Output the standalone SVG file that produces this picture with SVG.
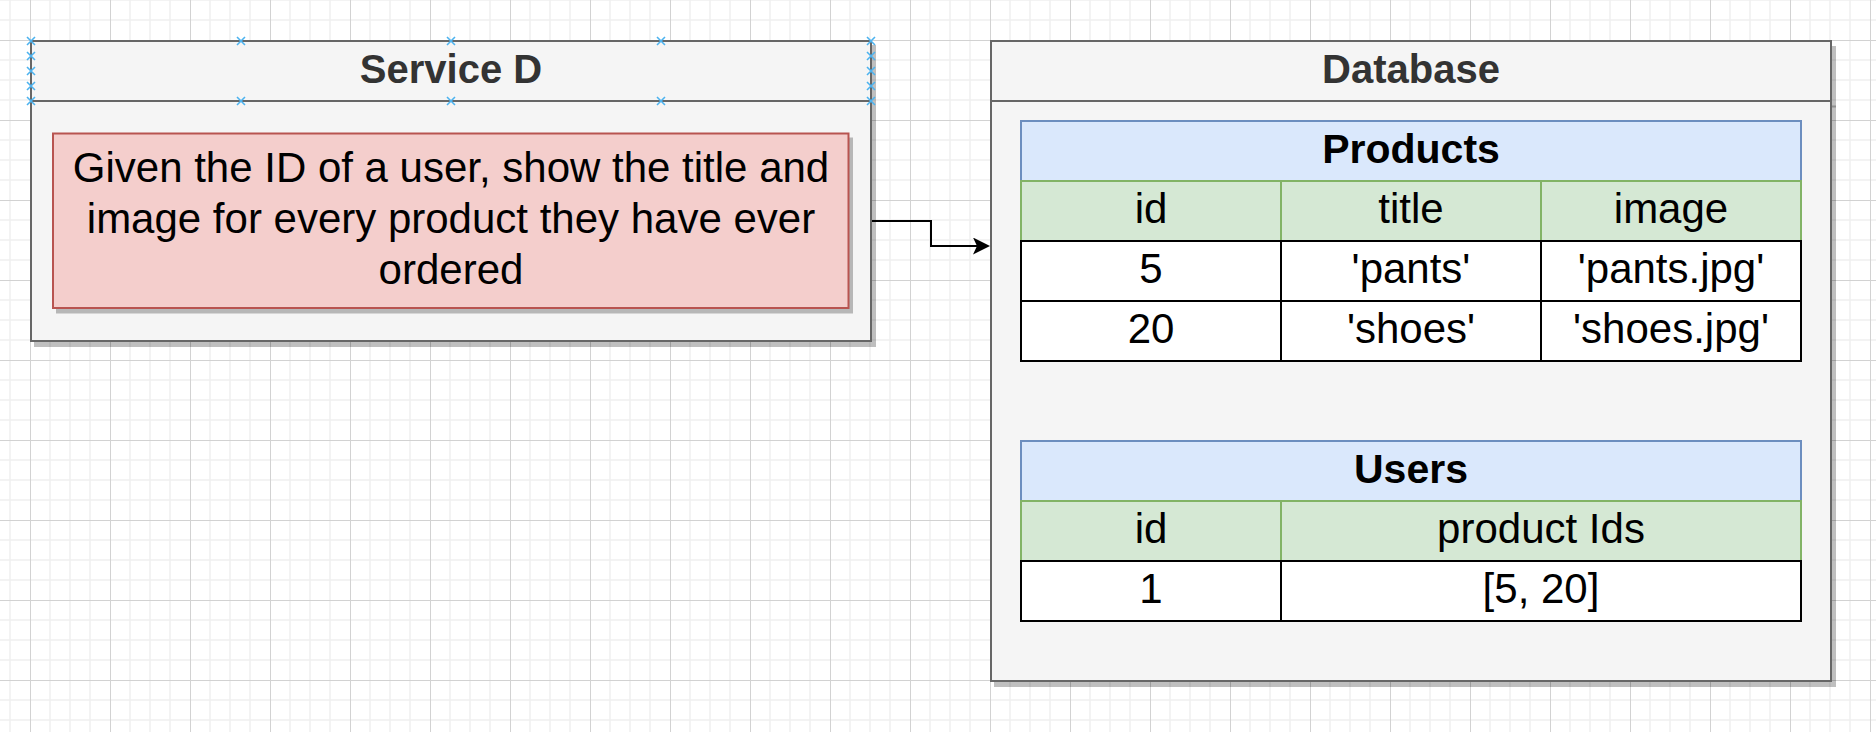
<svg xmlns="http://www.w3.org/2000/svg" width="1876" height="732" viewBox="0 0 1876 732">
<defs>
  <pattern id="grid" x="30" y="40" width="80" height="80" patternUnits="userSpaceOnUse">
    <path d="M20 0V80M40 0V80M60 0V80M0 20H80M0 40H80M0 60H80" stroke="#f0f0f0" stroke-width="1.5" fill="none"/>
    <path d="M0.5 0V80M0 0.5H80" stroke="#d2d2d2" stroke-width="1" fill="none"/>
  </pattern>
  <marker id="arrow" markerUnits="userSpaceOnUse" viewBox="0 0 17 17" refX="13" refY="8.5" markerWidth="17" markerHeight="17" orient="auto">
    <path d="M0 0L17 8.5L0 17L4 8.5Z" fill="#000"/>
  </marker>
  <path id="pt" d="M-4 -4L4 4M-4 4L4 -4"/>
</defs>
<style>
  text{font-family:"Liberation Sans",Arial,Helvetica,sans-serif}
  .container{fill:#f5f5f5;stroke:#666666;stroke-width:2}
  .sep{stroke:#666666;stroke-width:2;fill:none}
  .shadow{fill:#000;fill-opacity:0.25}
  .shadowline{stroke:#000;stroke-opacity:0.25;stroke-width:2;fill:none}
  .title{font-size:40px;font-weight:bold;fill:#333333;text-anchor:middle}
  .note{fill:#f4cecc;stroke:#b85450;stroke-width:2}
  .body{font-size:42px;fill:#000;text-anchor:middle}
  .th{fill:#dae8fc;stroke:#6c8ebf;stroke-width:2}
  .tcol{fill:#d5e8d4;stroke:#82b366;stroke-width:2}
  .trow{fill:#ffffff;stroke:#000;stroke-width:2}
  .hd{font-size:41px;font-weight:bold;fill:#000;text-anchor:middle}
  .pt{stroke:#4db3ef;stroke-width:1.6;fill:none}
  .edge{stroke:#000;stroke-width:2;fill:none}
</style>
<rect width="1876" height="732" fill="#ffffff"/>
<rect width="1876" height="732" fill="url(#grid)"/>

<g id="service-d">
  <rect class="shadow" x="34" y="45" width="842" height="302"/>
  <rect class="container" x="31" y="41" width="840" height="300"/>
  <path class="sep" d="M31 101H871"/>
  <text class="title" x="451" y="83">Service D</text>
  <g id="service-d-task">
    <rect class="shadow" x="56" y="137.5" width="797" height="176"/>
    <rect class="note" x="53" y="133.5" width="795.5" height="174.5"/>
    <text class="body" x="451" y="182">Given the ID of a user, show the title and</text>
    <text class="body" x="451" y="233">image for every product they have ever</text>
    <text class="body" x="451" y="284">ordered</text>
  </g>
  <g id="service-d-points">
    <use href="#pt" class="pt" x="31" y="41"/>
    <use href="#pt" class="pt" x="241" y="41"/>
    <use href="#pt" class="pt" x="451" y="41"/>
    <use href="#pt" class="pt" x="661" y="41"/>
    <use href="#pt" class="pt" x="871" y="41"/>
    <use href="#pt" class="pt" x="31" y="101"/>
    <use href="#pt" class="pt" x="241" y="101"/>
    <use href="#pt" class="pt" x="451" y="101"/>
    <use href="#pt" class="pt" x="661" y="101"/>
    <use href="#pt" class="pt" x="871" y="101"/>
    <use href="#pt" class="pt" x="31" y="56"/>
    <use href="#pt" class="pt" x="31" y="71"/>
    <use href="#pt" class="pt" x="31" y="86"/>
    <use href="#pt" class="pt" x="871" y="56"/>
    <use href="#pt" class="pt" x="871" y="71"/>
    <use href="#pt" class="pt" x="871" y="86"/>
  </g>
</g>

<g id="database">
  <rect class="shadow" x="994" y="46" width="842" height="641"/>
  <path class="shadowline" d="M994 106.5H1836"/>
  <rect class="container" x="991" y="41" width="840" height="640"/>
  <path class="sep" d="M991 101H1831"/>
  <text class="title" x="1411" y="83">Database</text>

  <g id="products-table">
    <rect class="th" x="1021" y="121" width="780" height="60"/>
    <text class="hd" x="1411" y="162.5">Products</text>
    <rect class="tcol" x="1021" y="181" width="260" height="60"/>
    <rect class="tcol" x="1281" y="181" width="260" height="60"/>
    <rect class="tcol" x="1541" y="181" width="260" height="60"/>
    <text class="body" x="1151" y="223">id</text>
    <text class="body" x="1411" y="223">title</text>
    <text class="body" x="1671" y="223">image</text>
    <rect class="trow" x="1021" y="241" width="260" height="60"/>
    <rect class="trow" x="1281" y="241" width="260" height="60"/>
    <rect class="trow" x="1541" y="241" width="260" height="60"/>
    <text class="body" x="1151" y="283">5</text>
    <text class="body" x="1411" y="283">'pants'</text>
    <text class="body" x="1671" y="283">'pants.jpg'</text>
    <rect class="trow" x="1021" y="301" width="260" height="60"/>
    <rect class="trow" x="1281" y="301" width="260" height="60"/>
    <rect class="trow" x="1541" y="301" width="260" height="60"/>
    <text class="body" x="1151" y="343">20</text>
    <text class="body" x="1411" y="343">'shoes'</text>
    <text class="body" x="1671" y="343">'shoes.jpg'</text>
  </g>

  <g id="users-table">
    <rect class="th" x="1021" y="441" width="780" height="60"/>
    <text class="hd" x="1411" y="482.5">Users</text>
    <rect class="tcol" x="1021" y="501" width="260" height="60"/>
    <rect class="tcol" x="1281" y="501" width="520" height="60"/>
    <text class="body" x="1151" y="543">id</text>
    <text class="body" x="1541" y="543">product Ids</text>
    <rect class="trow" x="1021" y="561" width="260" height="60"/>
    <rect class="trow" x="1281" y="561" width="520" height="60"/>
    <text class="body" x="1151" y="603">1</text>
    <text class="body" x="1541" y="603">[5, 20]</text>
  </g>
</g>

<g id="connectors">
  <path class="edge" d="M872 221H931V246H986" marker-end="url(#arrow)"/>
</g>
</svg>
